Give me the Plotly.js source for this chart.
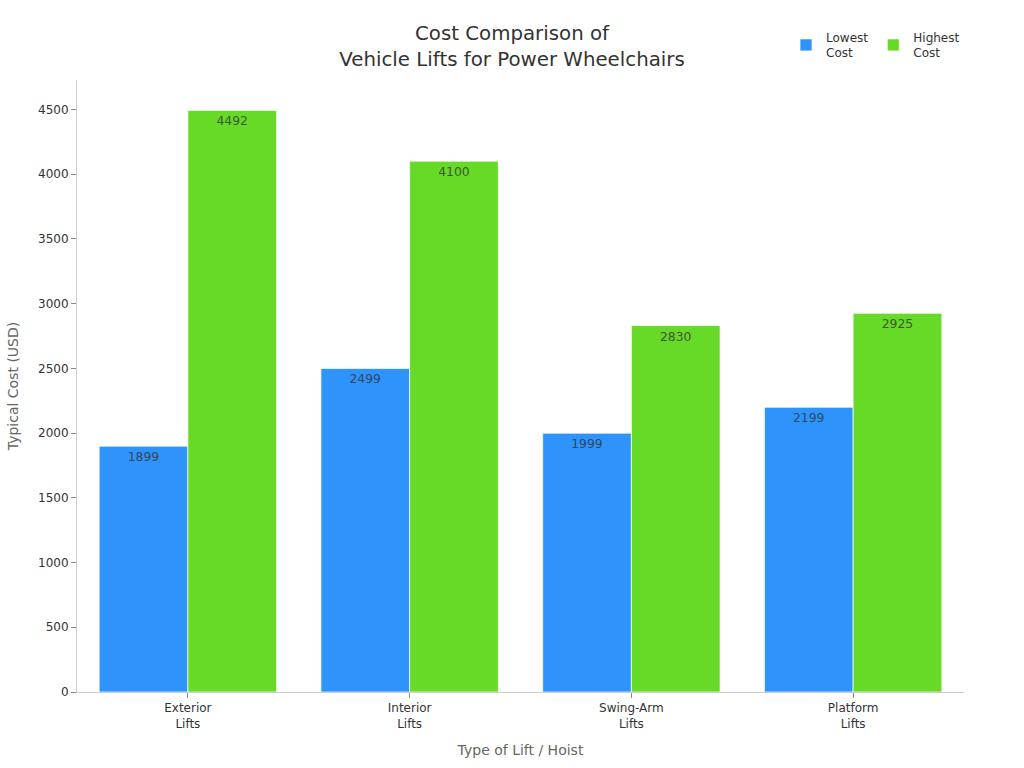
<!DOCTYPE html>
<html><head><meta charset="utf-8">
<script src="https://cdn.plot.ly/plotly-3.0.0.min.js"></script>
<style>html,body{margin:0;padding:0;background:#fff}</style></head>
<body><div id="chart" style="width:1024px;height:768px"></div>
<script>
const categories = ["Exterior<br>Lifts","Interior<br>Lifts","Swing-Arm<br>Lifts","Platform<br>Lifts"];
const lowestCost = [1899,2499,1999,2199];
const highestCost = [4492,4100,2830,2925];
const yTicks = [0,500,1000,1500,2000,2500,3000,3500,4000,4500];
const font = "DejaVu Sans, sans-serif";
function bar(name, vals, color){
  return {type:"bar", name:name, x:categories, y:vals, text:vals.map(String),
    textposition:"inside", insidetextanchor:"end", textangle:0, constraintext:"none",
    textfont:{family:font,size:12.4,color:"rgba(50,50,50,0.8)"},
    marker:{color:color,line:{color:"rgba(255,255,255,0.7)",width:1}},
    hoverinfo:"x+y"};
}
const data = [bar("Lowest<br>Cost",lowestCost,"#2e93fa"), bar("Highest<br>Cost",highestCost,"#66da26")];
const layout = {
  width:1024,height:768,paper_bgcolor:"#fff",plot_bgcolor:"#fff",
  font:{family:font,color:"#333"},
  margin:{l:77,r:60,t:80,b:76},
  barmode:"group",bargap:0.2,bargroupgap:0,
  title:{text:"Cost Comparison of<br>Vehicle Lifts for Power Wheelchairs",font:{family:font,size:19.8,color:"#333"},x:0.5,xanchor:"center",xref:"container",y:0.948,yanchor:"middle"},
  xaxis:{title:{text:"Type of Lift / Hoist",font:{size:14,color:"#666"},standoff:15},type:"category",
    showline:true,linecolor:"#ccc",linewidth:1,ticks:"outside",ticklen:5,tickcolor:"#888",tickfont:{size:12,color:"#333"},showgrid:false,zeroline:false},
  yaxis:{title:{text:"Typical Cost (USD)",font:{size:14,color:"#666"},standoff:16},range:[0,4727],tickmode:"array",tickvals:yTicks,ticktext:yTicks.map(String),
    showline:true,linecolor:"#ccc",linewidth:1,ticks:"outside",ticklen:5,tickcolor:"#888",tickfont:{size:12,color:"#333"},showgrid:false,zeroline:false},
  showlegend:true,
  legend:{orientation:"h",xref:"container",yref:"container",x:0.9424,xanchor:"right",y:0.941,yanchor:"middle",font:{size:12,color:"#333"},itemwidth:30,traceorder:"normal"}
};
Plotly.newPlot("chart",data,layout,{displayModeBar:false,responsive:false});
</script></body></html>
